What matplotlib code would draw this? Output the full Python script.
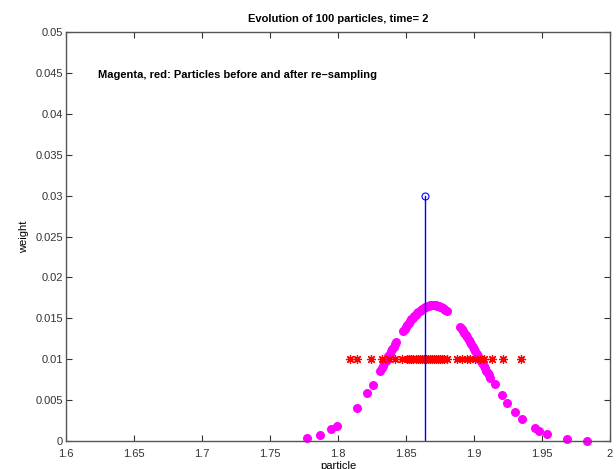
import matplotlib
matplotlib.use("Agg")
import matplotlib.pyplot as plt

# particles before re-sampling (magenta) : position, weight
before_x = [1.7774, 1.7869, 1.7952, 1.7991, 1.8141, 1.8214, 1.8255,
            1.831, 1.832, 1.833, 1.834, 1.835, 1.836, 1.837, 1.838, 1.839,
            1.840, 1.841, 1.842, 1.843,
            1.848, 1.849, 1.850, 1.851, 1.852, 1.853, 1.854, 1.855, 1.856,
            1.857, 1.858, 1.859, 1.860, 1.861, 1.862, 1.863, 1.864, 1.865,
            1.866, 1.867, 1.868, 1.869, 1.870, 1.871, 1.872, 1.873, 1.874,
            1.875, 1.876, 1.877, 1.878, 1.879, 1.880,
            1.890, 1.891, 1.892, 1.893, 1.894, 1.895, 1.896, 1.897, 1.898,
            1.899, 1.900, 1.901, 1.902, 1.903, 1.904, 1.905, 1.906, 1.907,
            1.908, 1.909, 1.910, 1.911, 1.912,
            1.9156, 1.9205, 1.9242, 1.9303, 1.9352, 1.9450, 1.9480, 1.9535,
            1.9682, 1.9833]
before_w = [0.00033, 0.00077, 0.00143, 0.00183, 0.00407, 0.00583, 0.00681,
            0.00860, 0.00889, 0.00918, 0.00948, 0.00977, 0.01007, 0.01037, 0.01066, 0.01095,
            0.01125, 0.01154, 0.01183, 0.01211,
            0.01346, 0.01372, 0.01396, 0.01420, 0.01443, 0.01465, 0.01486, 0.01506, 0.01525,
            0.01543, 0.01560, 0.01575, 0.01590, 0.01603, 0.01615, 0.01625, 0.01634, 0.01642,
            0.01649, 0.01654, 0.01657, 0.01659, 0.01660, 0.01659, 0.01657, 0.01654, 0.01649,
            0.01642, 0.01634, 0.01625, 0.01615, 0.01603, 0.01590,
            0.01396, 0.01372, 0.01346, 0.01321, 0.01294, 0.01267, 0.01239, 0.01211, 0.01183,
            0.01154, 0.01125, 0.01095, 0.01066, 0.01037, 0.01007, 0.00977, 0.00948, 0.00918,
            0.00889, 0.00860, 0.00831, 0.00802, 0.00774,
            0.00697, 0.00560, 0.00468, 0.00358, 0.00265, 0.00155, 0.00125, 0.00086,
            0.00024, 0.00004]

# particles after re-sampling (red) : all with weight 1/100
after_x = [1.8087, 1.8141, 1.8239, 1.8324, 1.8373, 1.8422, 1.8471,
           1.8508, 1.8525, 1.8540, 1.8555, 1.8570, 1.8585, 1.8600, 1.8615,
           1.8630, 1.8645, 1.8660, 1.8675, 1.8690, 1.8705, 1.8720, 1.8735,
           1.8750, 1.8765, 1.8780, 1.8801, 1.8875, 1.8912, 1.8948, 1.8972,
           1.9009, 1.9046, 1.9070, 1.9132, 1.9210, 1.9347]
after_w = [0.01] * len(after_x)

# estimate (blue stem)
est_x = 1.8637
est_h = 0.03

x_ticks = [1.6, 1.65, 1.7, 1.75, 1.8, 1.85, 1.9, 1.95, 2]
x_labels = ['1.6', '1.65', '1.7', '1.75', '1.8', '1.85', '1.9', '1.95', '2']
y_ticks = [0, 0.005, 0.01, 0.015, 0.02, 0.025, 0.03, 0.035, 0.04, 0.045, 0.05]
y_labels = ['0', '0.005', '0.01', '0.015', '0.02', '0.025', '0.03', '0.035', '0.04', '0.045', '0.05']

plt.rcParams['font.family'] = ['Liberation Sans', 'DejaVu Sans']

fig = plt.figure(figsize=(6.16, 4.69), dpi=100)
ax = fig.add_axes([66/616, 1-441/469, 544/616, 409/469])

ax.plot(before_x, before_w, 'o', color='magenta', markersize=6.5, markeredgewidth=0, clip_on=False)
ax.plot(after_x, after_w, marker=(8, 2, 0), color='red', markersize=6.5, markeredgewidth=0.9, linestyle='none')
ax.plot([est_x, est_x], [0, est_h], color='blue', linewidth=1)
ax.plot([est_x], [est_h], 'o', markerfacecolor='none', markeredgecolor='blue', markersize=5, markeredgewidth=0.8)

ax.set_xlim(1.6, 2)
ax.set_ylim(0, 0.05)
ax.set_xticks(x_ticks)
ax.set_xticklabels(x_labels)
ax.set_yticks(y_ticks)
ax.set_yticklabels(y_labels)
ax.tick_params(direction='in', top=True, right=True, labelsize=8, length=4, colors='#333333')
ax.tick_params(axis='x', pad=6)
ax.tick_params(axis='y', pad=2)
for s in ax.spines.values():
    s.set_color('#555555')
    s.set_linewidth(1)

ax.set_title('Evolution of 100 particles, time= 2', fontsize=8, fontweight='bold', pad=7)
ax.set_xlabel('particle', fontsize=8, labelpad=1)
ax.set_ylabel('weight', fontsize=8, labelpad=5)
ax.text(1.6235, 0.0448, 'Magenta, red: Particles before and after re\u2013sampling',
        fontsize=8, fontweight='bold', va='center')

fig.savefig('out.png', dpi=100)
